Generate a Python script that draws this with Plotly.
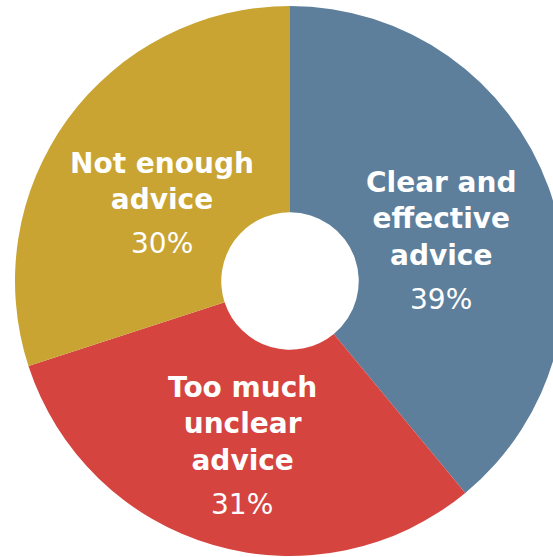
import plotly.graph_objects as go

# Data
categories = ["Clear and<br>effective<br>advice", "Too much<br>unclear<br>advice", "Not enough<br>advice"]
values = [39, 31, 30]
colors = ["#5E7F9C", "#D5443F", "#C9A432"]

# Label block centres (pixels) for each slice: (x, name-block y, percent y)
label_px = [(441, 219, 299), (242, 424, 504), (162, 181, 243)]

W, H = 580, 557
CX, CY, R = 290, 281, 275

fig = go.Figure(go.Pie(
    labels=[c.replace("<br>", " ") for c in categories],
    values=values,
    marker=dict(colors=colors, line=dict(width=0)),
    hole=0.25,
    sort=False,
    direction="clockwise",
    rotation=0,
    textinfo="none",
    hoverinfo="label+percent",
    domain=dict(x=[0, 1], y=[1 - (CY + R) / H, 1 - (CY - R) / H]),
    showlegend=False,
))

for cat, val, (x, y1, y2) in zip(categories, values, label_px):
    fig.add_annotation(
        x=x / W, y=1 - y1 / H, xref="paper", yref="paper",
        text=f"<b>{cat}</b>", showarrow=False, align="center",
        xanchor="center", yanchor="middle",
        font=dict(family="DejaVu Sans", size=28, color="white"),
    )
    fig.add_annotation(
        x=x / W, y=1 - y2 / H, xref="paper", yref="paper",
        text=f"{val}%", showarrow=False, align="center",
        xanchor="center", yanchor="middle",
        font=dict(family="DejaVu Sans", size=28, color="white"),
    )

fig.update_layout(
    width=W, height=H,
    margin=dict(l=0, r=0, t=0, b=0),
    paper_bgcolor="white",
    plot_bgcolor="white",
)

fig.write_html(
    "out.html",
    config={"displayModeBar": False},
    post_script="document.body.style.margin='0';document.body.style.overflow='hidden';document.documentElement.style.overflow='hidden';",
)
